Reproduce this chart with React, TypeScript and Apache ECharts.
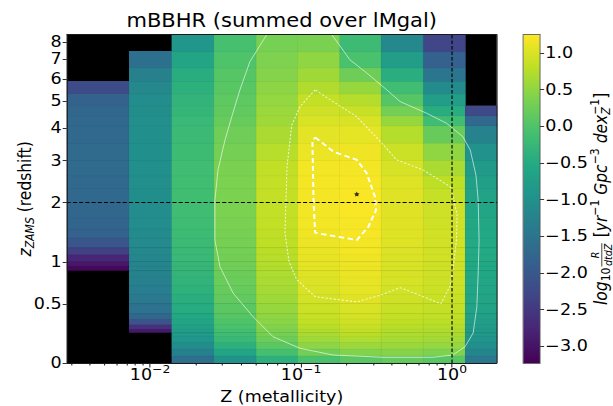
import React, { useEffect, useRef } from "react";
import * as echarts from "echarts";

const FONT = '"DejaVu Sans", sans-serif';
const STRETCH = 1.131;
const CHART_W = 542;
const CHART_H = 406;

// Metallicity bin edges (Z) and redshift bin edges (z_ZAMS)
const metallicityEdges = [0.00281, 0.00726, 0.0139, 0.0265, 0.0504, 0.0951, 0.18, 0.339, 0.645, 1.219, 1.977];
const redshiftEdges = [
  0, 0.05, 0.1, 0.15, 0.2, 0.23, 0.26, 0.3, 0.35, 0.4, 0.5, 0.6, 0.7, 0.8, 0.88, 0.94, 1.0,
  1.1, 1.2, 1.35, 1.5, 1.7, 2.0, 2.3, 2.6, 3.0, 3.5, 4.07, 4.43, 4.81, 5.31, 5.87, 6.54, 7.43, 8.47,
];

// log10 merger rate per metallicity bin, one value per redshift bin (low z -> high z); null = empty
const logRateZbin1 = [
  null, null, null, null, null, null, null, null, null, null, null, null, null, null,
  -3.15, -2.95, -2.75, -2.4, -2.05, -1.85, -1.78, -1.74, -1.72, -1.7, -1.68, -1.68, -1.7, -1.72, -1.75, -1.82, -2.2,
  null, null, null,
];
const logRateZbin2 = [
  null, null, null, null, null,
  -2.95, -2.6, -2.1, -1.75, -1.55, -1.42, -1.35, -1.3, -1.26, -1.23, -1.2, -1.18, -1.15, -1.12, -1.1,
  -1.08, -1.06, -1.04, -1.02, -1.0, -1.0, -1.0, -1.02, -1.04, -1.08, -1.15, -1.28, -1.58,
  null,
];
const logRateZbin3 = [
  -1.6, -1.3, -1.05, -0.9, -0.82, -0.76, -0.7, -0.62, -0.55, -0.48,
  -0.42, -0.37, -0.33, -0.3, -0.28, -0.26, -0.24, -0.22, -0.2, -0.18,
  -0.16, -0.15, -0.14, -0.14, -0.15, -0.17, -0.2, -0.24, -0.28, -0.32,
  -0.38, -0.46, -0.62, -0.9,
];
const logRateZbin4 = [
  -0.95, -0.6, -0.38, -0.24, -0.15, -0.1, -0.05, 0.0, 0.05, 0.1,
  0.15, 0.19, 0.22, 0.24, 0.26, 0.27, 0.29, 0.3, 0.32, 0.33,
  0.35, 0.36, 0.36, 0.36, 0.35, 0.31, 0.26, 0.2, 0.15, 0.12,
  0.08, 0.05, 0.0, -0.08,
];
const logRateZbin5 = [
  -0.4, -0.1, 0.1, 0.24, 0.32, 0.36, 0.41, 0.46, 0.5, 0.55,
  0.6, 0.64, 0.67, 0.7, 0.72, 0.74, 0.76, 0.78, 0.8, 0.81,
  0.83, 0.84, 0.85, 0.85, 0.82, 0.76, 0.68, 0.6, 0.57, 0.53,
  0.48, 0.43, 0.38, 0.32,
];
const logRateZbin6 = [
  -0.05, 0.28, 0.47, 0.6, 0.68, 0.72, 0.77, 0.82, 0.86, 0.9,
  0.95, 0.99, 1.02, 1.04, 1.06, 1.08, 1.1, 1.11, 1.13, 1.15,
  1.17, 1.18, 1.19, 1.19, 1.17, 1.13, 1.07, 1.0, 0.93, 0.85,
  0.72, 0.6, 0.5, 0.35,
];
const logRateZbin7 = [
  0.1, 0.4, 0.58, 0.7, 0.78, 0.82, 0.87, 0.92, 0.96, 1.0,
  1.05, 1.08, 1.1, 1.12, 1.13, 1.14, 1.16, 1.17, 1.18, 1.2,
  1.21, 1.22, 1.22, 1.21, 1.19, 1.15, 1.08, 1.0, 0.88, 0.75,
  0.55, 0.25, -0.05, -0.18,
];
const logRateZbin8 = [
  0.18, 0.42, 0.56, 0.65, 0.7, 0.73, 0.77, 0.81, 0.85, 0.88,
  0.92, 0.95, 0.97, 0.98, 0.99, 1.0, 1.01, 1.02, 1.03, 1.04,
  1.05, 1.05, 1.05, 1.03, 0.98, 0.9, 0.75, 0.55, 0.3, 0.05,
  -0.15, -0.42, -0.75, -1.15,
];
const logRateZbin9 = [
  0.08, 0.38, 0.53, 0.62, 0.68, 0.72, 0.75, 0.79, 0.82, 0.85,
  0.88, 0.9, 0.91, 0.92, 0.93, 0.93, 0.94, 0.94, 0.94, 0.94,
  0.93, 0.92, 0.86, 0.8, 0.68, 0.5, 0.2, -0.15, -0.45, -0.75,
  -1.1, -1.5, -1.85, -2.3,
];
const logRateZbin10 = [
  -1.45, -1.2, -1.02, -0.92, -0.86, -0.82, -0.78, -0.74, -0.7, -0.66,
  -0.62, -0.6, -0.58, -0.56, -0.55, -0.54, -0.53, -0.53, -0.53, -0.54,
  -0.56, -0.6, -0.65, -0.72, -0.82, -0.98, -1.25, -1.7, -2.25, null,
  null, null, null, null,
];

// Colour range and tick labels
const colorMin = -3.23;
const colorMax = 1.25;
const colorTicks = [-3, -2.5, -2, -1.5, -1, -0.5, 0, 0.5, 1];
const redshiftTicks = [0, 0.5, 1, 2, 3, 4, 5, 6, 7, 8];
const metallicityTicks = [0.01, 0.1, 1];

// Reference lines and peak
const referenceRedshift = 2;
const referenceMetallicity = 1;
const peakMetallicity = 0.234;
const peakRedshift = 2.18;

// Contour levels (Z, z) of the smoothed rate
const outerContourZ = [
  0.0593, 0.0459, 0.0394, 0.0348, 0.0314, 0.0282, 0.0269, 0.0269, 0.0291, 0.0355, 0.0481, 0.0653, 0.0985,
  0.163, 0.349, 0.748, 1.01, 1.22, 1.38, 1.46, 1.49, 1.51, 1.49, 1.44, 1.32, 1.18, 0.922, 0.68, 0.453,
  0.37, 0.272, 0.211, 0.16,
];
const outerContourRedshift = [
  8.47, 6.88, 5.49, 4.4, 3.61, 2.75, 2.05, 1.32, 0.93, 0.615, 0.373, 0.197, 0.106,
  0.056, 0.04, 0.04, 0.056, 0.118, 0.228, 0.471, 0.852, 1.32, 2.05, 2.62, 3.3, 3.71, 4.16, 4.53, 4.99,
  5.49, 6.29, 6.97, 8.47,
];
const innerContourZ = [
  0.124, 0.0985, 0.0868, 0.0808, 0.0783, 0.0833, 0.0937, 0.124, 0.234, 0.334, 0.453, 0.614, 0.842,
  0.97, 1.02, 1.07, 1.08, 1.01, 0.97, 0.643, 0.43, 0.342, 0.234, 0.163, 0.124,
];
const innerContourRedshift = [
  5.49, 4.79, 4.1, 2.84, 1.44, 1.0, 0.77, 0.575, 0.52, 0.59, 0.675, 0.59, 0.5,
  0.69, 0.93, 1.32, 1.76, 2.16, 2.35, 2.75, 3.02, 3.51, 4.4, 4.99, 5.49,
];
const coreContourZ = [0.124, 0.164, 0.234, 0.272, 0.309, 0.314, 0.279, 0.234, 0.124, 0.121, 0.119, 0.124];
const coreContourRedshift = [3.69, 3.25, 3.02, 2.67, 2.12, 1.85, 1.54, 1.32, 1.44, 2.05, 3.55, 3.69];

// Layout (unstretched chart coordinates)
const PLOT = { left: 59, top: 34.7, width: 380.2, height: 328.3 };
const CBAR = { left: 462.7, top: 34.7, width: 14.8, height: 328.3 };
const TICK_FONT = 15.5;

const VIRIDIS = [
  "#440154", "#482475", "#414487", "#355f8d", "#2a788e", "#21918c",
  "#22a884", "#44bf70", "#7ad151", "#bddf26", "#fde725",
];

function hexToRgb(h: string) {
  return [parseInt(h.slice(1, 3), 16), parseInt(h.slice(3, 5), 16), parseInt(h.slice(5, 7), 16)];
}

function viridis(n: number) {
  const t = Math.min(1, Math.max(0, n)) * (VIRIDIS.length - 1);
  const i = Math.min(VIRIDIS.length - 2, Math.floor(t));
  const f = t - i;
  const a = hexToRgb(VIRIDIS[i]);
  const b = hexToRgb(VIRIDIS[i + 1]);
  const c = a.map((v, k) => Math.round(v + (b[k] - v) * f));
  return `rgb(${c[0]},${c[1]},${c[2]})`;
}

type Piece = {
  text?: string;
  size: number;
  italic?: boolean;
  dy?: number;
  keep?: boolean;
  num?: string;
  den?: string;
};

// Lays out a rotated mathtext-like label as a row of small text pieces
function layoutPieces(pieces: Piece[]) {
  const ctx = document.createElement("canvas").getContext("2d")!;
  const measure = (t: string, s: number, it?: boolean) => {
    ctx.font = `${it ? "italic " : ""}${s}px ${FONT}`;
    return ctx.measureText(t).width;
  };
  const kids: any[] = [];
  let x = 0;
  let carry = 0;
  const txt = (t: string, px: number, py: number, s: number, it: boolean, align: string) => ({
    type: "text",
    x: px,
    y: py,
    style: {
      text: t,
      fontSize: s,
      fontFamily: FONT,
      fontStyle: it ? "italic" : "normal",
      fill: "#000",
      align,
      textAlign: align,
      verticalAlign: "middle",
      textVerticalAlign: "middle",
    },
  });
  for (const p of pieces) {
    if (p.num !== undefined && p.den !== undefined) {
      const w = Math.max(measure(p.num, p.size, true), measure(p.den, p.size, true)) + 1;
      const cx = x + 1 + w / 2;
      kids.push(txt(p.num, cx, -5.6, p.size, true, "center"));
      kids.push(txt(p.den, cx, 6.2, p.size, true, "center"));
      kids.push({
        type: "line",
        shape: { x1: x + 1, y1: 0.6, x2: x + 1 + w, y2: 0.6 },
        style: { stroke: "#000", lineWidth: 0.7 },
      });
      x += w + 2;
      continue;
    }
    const t = p.text || "";
    const w = measure(t, p.size, p.italic);
    kids.push(txt(t, x, p.dy || 0, p.size, !!p.italic, "left"));
    if (p.keep) {
      carry = w;
    } else {
      x += Math.max(w, carry);
      carry = 0;
    }
  }
  const half = x / 2;
  kids.forEach((k) => {
    if (k.type === "line") {
      k.shape.x1 -= half;
      k.shape.x2 -= half;
    } else {
      k.x -= half;
    }
  });
  return kids;
}

const STAR = "path://M0,-10L2.9,-4L9.5,-3.1L4.7,1.6L5.9,8.1L0,5.1L-5.9,8.1L-4.7,1.6L-9.5,-3.1L-2.9,-4Z";

export default function App() {
  const ref = useRef<HTMLDivElement>(null);

  useEffect(() => {
    if (!ref.current) return;
    const chart = echarts.init(ref.current, null, { renderer: "svg" });

    const xMin = Math.log10(metallicityEdges[0]);
    const xMax = Math.log10(metallicityEdges[metallicityEdges.length - 1]);
    const yMax = Math.log1p(redshiftEdges[redshiftEdges.length - 1]);

    const columns = [
      logRateZbin1, logRateZbin2, logRateZbin3, logRateZbin4, logRateZbin5,
      logRateZbin6, logRateZbin7, logRateZbin8, logRateZbin9, logRateZbin10,
    ];
    const cells: number[][] = [];
    columns.forEach((col, i) => {
      col.forEach((v, j) => {
        if (v === null) return;
        cells.push([
          Math.log10(metallicityEdges[i]),
          Math.log10(metallicityEdges[i + 1]),
          Math.log1p(redshiftEdges[j]),
          Math.log1p(redshiftEdges[j + 1]),
          v,
        ]);
      });
    });

    const toXY = (zs: number[], rs: number[]) => zs.map((z, i) => [Math.log10(z), Math.log1p(rs[i])]);

    const majorX = metallicityTicks.map((m) => Math.log10(m));
    const minorX: number[] = [];
    for (let e = -3; e <= 0; e++) {
      for (let k = 2; k <= 9; k++) {
        const v = Math.log10(k * Math.pow(10, e));
        if (v > xMin && v < xMax) minorX.push(v);
      }
    }
    const yTickVals = redshiftTicks.map((z) => Math.log1p(z));

    const spine = { color: "#1a1a1a", width: 0.9 };
    const supMinus = (n: number) => (n < 0 ? "\u2212" + -n : String(n));

    const yName = layoutPieces([
      { text: "z", size: TICK_FONT, italic: true },
      { text: "ZAMS", size: 10.9, italic: true, dy: 4 },
      { text: " (redshift)", size: TICK_FONT },
    ]);
    const cName = layoutPieces([
      { text: "log", size: TICK_FONT, italic: true },
      { text: "10", size: 10.9, dy: 4 },
      { num: "R", den: "dtdZ", size: 9.5 },
      { text: " [", size: TICK_FONT },
      { text: "yr", size: TICK_FONT, italic: true },
      { text: "\u22121", size: 10.9, dy: -5.5 },
      { text: " Gpc", size: TICK_FONT, italic: true },
      { text: "\u22123", size: 10.9, dy: -5.5 },
      { text: " dex", size: TICK_FONT, italic: true },
      { text: "Z", size: 10.9, italic: true, dy: 4.5, keep: true },
      { text: "\u22121", size: 10.9, dy: -6 },
      { text: "]", size: TICK_FONT },
    ]);

    const plain = (t: string, x: number, y: number, s: number) => ({
      type: "text",
      x,
      y,
      style: {
        text: t,
        fontSize: s,
        fontFamily: FONT,
        fill: "#000",
        align: "center",
        textAlign: "center",
        verticalAlign: "middle",
        textVerticalAlign: "middle",
      },
    });

    chart.setOption({
      animation: false,
      grid: [
        { ...PLOT, show: true, backgroundColor: "#000", borderWidth: 0 },
        { ...CBAR, show: false },
      ],
      xAxis: [
        {
          type: "value", gridIndex: 0, min: xMin, max: xMax, position: "bottom", z: 10,
          axisLine: { show: true, onZero: false, lineStyle: spine },
          axisTick: { show: true, customValues: majorX, length: 4.5, lineStyle: spine },
          axisLabel: {
            show: true, customValues: majorX, margin: 1, color: "#000",
            formatter: (v: number) => `{b|10}{s|${supMinus(Math.round(v))}}`,
            rich: {
              b: { fontSize: TICK_FONT, fontFamily: FONT, lineHeight: 22, verticalAlign: "middle", color: "#000" },
              s: { fontSize: 10.9, fontFamily: FONT, lineHeight: 11, verticalAlign: "top", color: "#000" },
            },
          },
          splitLine: { show: false },
        },
        {
          type: "value", gridIndex: 0, min: xMin, max: xMax, position: "bottom", z: 10,
          axisLine: { show: false },
          axisTick: { show: true, customValues: minorX, length: 2.6, lineStyle: spine },
          axisLabel: { show: false },
          splitLine: { show: false },
        },
        {
          type: "value", gridIndex: 0, min: xMin, max: xMax, position: "top", z: 10,
          axisLine: { show: true, onZero: false, lineStyle: spine },
          axisTick: { show: false }, axisLabel: { show: false }, splitLine: { show: false },
        },
        {
          type: "value", gridIndex: 1, min: 0, max: 1, position: "bottom", z: 10,
          axisLine: { show: true, onZero: false, lineStyle: { color: "#555", width: 0.8 } },
          axisTick: { show: false }, axisLabel: { show: false }, splitLine: { show: false },
        },
        {
          type: "value", gridIndex: 1, min: 0, max: 1, position: "top", z: 10,
          axisLine: { show: true, onZero: false, lineStyle: { color: "#555", width: 0.8 } },
          axisTick: { show: false }, axisLabel: { show: false }, splitLine: { show: false },
        },
      ],
      yAxis: [
        {
          type: "value", gridIndex: 0, min: 0, max: yMax, position: "left", z: 10,
          axisLine: { show: true, onZero: false, lineStyle: spine },
          axisTick: { show: true, customValues: yTickVals, length: 3.6, lineStyle: spine },
          axisLabel: {
            show: true, customValues: yTickVals, margin: 4.5, color: "#000",
            fontSize: TICK_FONT, fontFamily: FONT,
            formatter: (v: number) => {
              const t = redshiftTicks.find((z) => Math.abs(Math.log1p(z) - v) < 1e-6);
              return t === undefined ? "" : String(t);
            },
          },
          splitLine: { show: false },
        },
        {
          type: "value", gridIndex: 0, min: 0, max: yMax, position: "right", z: 10,
          axisLine: { show: true, onZero: false, lineStyle: spine },
          axisTick: { show: false }, axisLabel: { show: false }, splitLine: { show: false },
        },
        {
          type: "value", gridIndex: 1, min: colorMin, max: colorMax, position: "right", z: 10,
          axisLine: { show: true, onZero: false, lineStyle: { color: "#555", width: 0.8 } },
          axisTick: { show: true, customValues: colorTicks, length: 3.6, lineStyle: { color: "#222", width: 0.9 } },
          axisLabel: {
            show: true, customValues: colorTicks, margin: 4.6, color: "#000",
            fontSize: TICK_FONT, fontFamily: FONT,
            formatter: (v: number) => (v < -1e-9 ? "\u2212" : "") + Math.abs(v).toFixed(1),
          },
          splitLine: { show: false },
        },
        {
          type: "value", gridIndex: 1, min: colorMin, max: colorMax, position: "left", z: 10,
          axisLine: { show: true, onZero: false, lineStyle: { color: "#555", width: 0.8 } },
          axisTick: { show: false }, axisLabel: { show: false }, splitLine: { show: false },
        },
      ],
      series: [
        {
          type: "custom",
          xAxisIndex: 0,
          yAxisIndex: 0,
          z: 2,
          clip: true,
          data: cells,
          renderItem: (_p: any, api: any) => {
            const a = api.coord([api.value(0), api.value(3)]);
            const b = api.coord([api.value(1), api.value(2)]);
            const fill = viridis((api.value(4) - colorMin) / (colorMax - colorMin));
            // cells overlap their upper / right neighbours slightly so no seams show through
            return {
              type: "rect",
              shape: { x: a[0], y: a[1] - 0.6, width: b[0] - a[0] + 0.6, height: b[1] - a[1] + 0.6 },
              style: { fill, stroke: "rgba(0,0,0,0.07)", lineWidth: 0.5 },
            };
          },
        },
        {
          type: "custom",
          xAxisIndex: 3,
          yAxisIndex: 2,
          z: 2,
          data: [[0]],
          renderItem: (_p: any, api: any) => {
            const a = api.coord([0, colorMax]);
            const b = api.coord([1, colorMin]);
            return {
              type: "rect",
              shape: { x: a[0], y: a[1], width: b[0] - a[0], height: b[1] - a[1] },
              style: {
                fill: new echarts.graphic.LinearGradient(
                  0, 1, 0, 0,
                  VIRIDIS.map((c, i) => ({ offset: i / (VIRIDIS.length - 1), color: c }))
                ),
              },
            };
          },
        },
        {
          type: "line", xAxisIndex: 0, yAxisIndex: 0, z: 4, symbol: "none", silent: true,
          data: toXY(outerContourZ, outerContourRedshift),
          lineStyle: { color: "rgba(255,255,255,0.7)", width: 0.8 },
        },
        {
          type: "line", xAxisIndex: 0, yAxisIndex: 0, z: 4, symbol: "none", silent: true,
          data: toXY(innerContourZ, innerContourRedshift),
          lineStyle: { color: "rgba(255,255,255,0.8)", width: 0.9, type: [2, 1.6] },
        },
        {
          type: "line", xAxisIndex: 0, yAxisIndex: 0, z: 4, symbol: "none", silent: true,
          data: toXY(coreContourZ, coreContourRedshift),
          lineStyle: { color: "#ffffff", width: 1.8, type: [5, 3] },
        },
        {
          type: "line", xAxisIndex: 0, yAxisIndex: 0, z: 5, symbol: "none", silent: true,
          data: [[xMin, Math.log1p(referenceRedshift)], [xMax, Math.log1p(referenceRedshift)]],
          lineStyle: { color: "#000", width: 1, type: [3.5, 2] },
        },
        {
          type: "line", xAxisIndex: 0, yAxisIndex: 0, z: 5, symbol: "none", silent: true,
          data: [[Math.log10(referenceMetallicity), 0], [Math.log10(referenceMetallicity), yMax]],
          lineStyle: { color: "#000", width: 1, type: [3.5, 2] },
        },
        {
          type: "scatter", xAxisIndex: 0, yAxisIndex: 0, z: 6, silent: true,
          symbol: STAR, symbolSize: 5,
          itemStyle: { color: "#000" },
          data: [[Math.log10(peakMetallicity), Math.log1p(peakRedshift)]],
        },
      ],
      graphic: [
        plain("mBBHR (summed over lMgal)", PLOT.left + PLOT.width / 2, 21, 18.6),
        plain("Z (metallicity)", PLOT.left + PLOT.width / 2, 396.5, TICK_FONT),
        { type: "group", x: 22.5, y: PLOT.top + PLOT.height / 2, rotation: Math.PI / 2, children: yName },
        { type: "group", x: 531.5, y: CBAR.top + CBAR.height / 2, rotation: Math.PI / 2, children: cName },
      ],
    });

    return () => chart.dispose();
  }, []);

  return (
    <div
      ref={ref}
      style={{
        position: "absolute",
        left: 0,
        top: 0,
        width: CHART_W,
        height: CHART_H,
        transform: `scaleX(${STRETCH})`,
        transformOrigin: "0 0",
      }}
    />
  );
}
